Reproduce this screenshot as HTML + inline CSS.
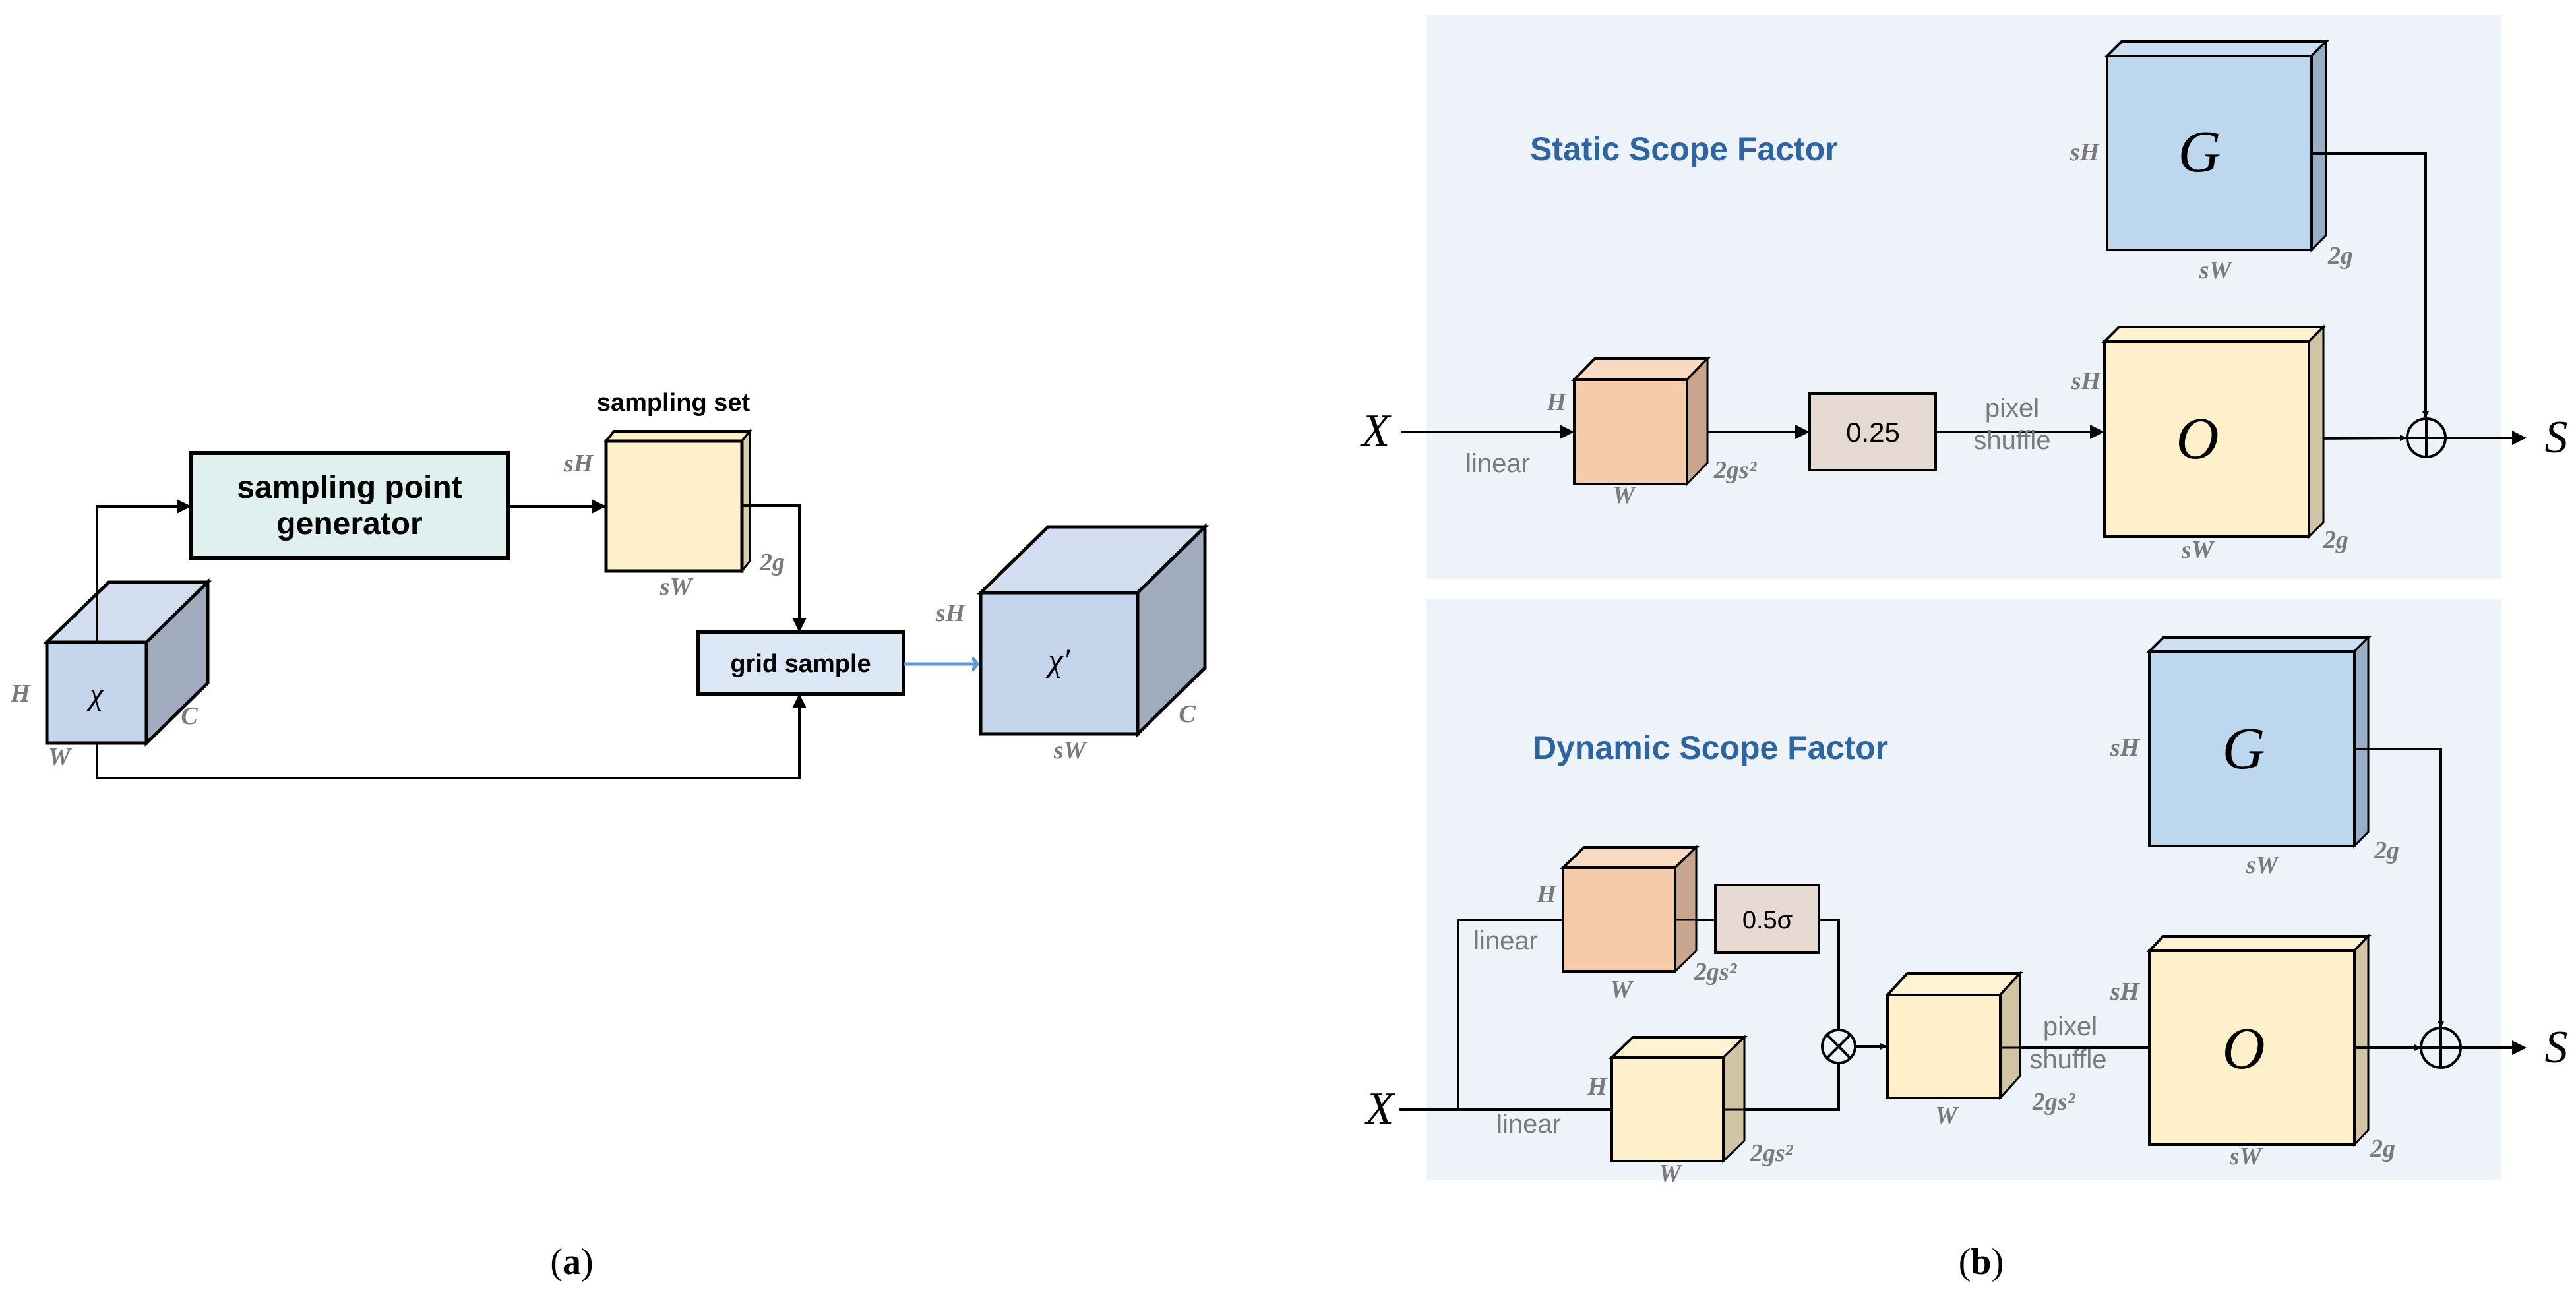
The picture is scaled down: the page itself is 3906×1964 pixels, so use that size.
<!DOCTYPE html>
<html><head><meta charset="utf-8"><style>
html,body{margin:0;padding:0;background:#fff;}
svg{display:block}
.lbl{font-family:"Liberation Serif",serif;font-style:italic;font-weight:bold;fill:#7a7a7a;font-size:38px}
.gt{font-family:"Liberation Sans",sans-serif;fill:#7a7a7a;font-size:40px}
.bt{font-family:"Liberation Sans",sans-serif;font-weight:bold;fill:#000}
.ms{font-family:"Liberation Serif",serif;font-style:italic;fill:#000}
.ttl{font-family:"Liberation Sans",sans-serif;font-weight:bold;fill:#2e64a0;font-size:50px}
</style></head><body>
<svg width="3906" height="1964" viewBox="0 0 3906 1964" xmlns="http://www.w3.org/2000/svg">
<defs>
<marker id="ah" markerWidth="10" markerHeight="10" refX="9" refY="5" orient="auto" markerUnits="userSpaceOnUse" viewBox="0 0 10 10"><path d="M0,0 L10,5 L0,10 z" fill="#000"/></marker>
<marker id="ahb" markerWidth="22" markerHeight="22" refX="20" refY="11" orient="auto" markerUnits="userSpaceOnUse"><path d="M0,0 L22,11 L0,22 z" fill="#000"/></marker>
<marker id="ahl" markerWidth="24" markerHeight="24" refX="6" refY="12" orient="auto" markerUnits="userSpaceOnUse"><path d="M0,2 L8,12 L0,22" fill="none" stroke="#5b9bd5" stroke-width="5"/></marker>
</defs>

<!-- ============ Panel (a) ============ -->
<g stroke="#000" stroke-width="4" fill="none">
<polyline points="147,974 147,768 288,768" marker-end="url(#ahb)"/>
<line x1="771" y1="768" x2="917" y2="768" marker-end="url(#ahb)"/>
<polyline points="1125,767 1212,767 1212,957" marker-end="url(#ahb)"/>
<polyline points="147,1127 147,1180 1212,1180 1212,1054" marker-end="url(#ahb)"/>
</g>
<rect x="290" y="687" width="481" height="159" fill="#dff0ee" stroke="#000" stroke-width="6"/>
<text class="bt" font-size="48" x="530" y="755" text-anchor="middle">sampling point</text>
<text class="bt" font-size="48" x="530" y="810" text-anchor="middle">generator</text>
<text class="bt" font-size="38" x="1021" y="623" text-anchor="middle">sampling set</text>
<!-- sampling set cube -->
<polygon points="919,669 931,654 1137,654 1125,669" fill="#fff0cc" stroke="#000" stroke-width="4"/>
<polygon points="1125,669 1137,654 1137,851 1125,866" fill="#d8ccaa" stroke="#000" stroke-width="3"/>
<rect x="919" y="669" width="206" height="197" fill="#fff0cc" stroke="#000" stroke-width="5"/>
<line x1="1125" y1="767" x2="1137" y2="767" stroke="#000" stroke-width="4"/>
<text class="lbl" x="877" y="715" text-anchor="middle">sH</text>
<text class="lbl" x="1171" y="865" text-anchor="middle">2g</text>
<text class="lbl" x="1025" y="902" text-anchor="middle">sW</text>
<!-- X cube -->
<polygon points="71,974 165,883 315,883 222,974" fill="#d2deef" stroke="#000" stroke-width="5"/>
<polygon points="222,974 315,883 315,1036 222,1127" fill="#a0acbe" stroke="#000" stroke-width="5"/>
<rect x="71" y="974" width="151" height="153" fill="#c5d5ec" stroke="#000" stroke-width="5"/>
<line x1="147" y1="883" x2="147" y2="974" stroke="#000" stroke-width="4"/>
<text class="ms" font-size="48" x="146" y="1068" text-anchor="middle">χ</text>
<text class="lbl" x="31" y="1064" text-anchor="middle">H</text>
<text class="lbl" x="90" y="1160" text-anchor="middle">W</text>
<text class="lbl" x="287" y="1098" text-anchor="middle">C</text>
<!-- grid sample -->
<rect x="1059" y="959" width="311" height="93" fill="#dce8f5" stroke="#000" stroke-width="6"/>
<text class="bt" font-size="38" x="1214" y="1019" text-anchor="middle">grid sample</text>
<line x1="1370" y1="1007" x2="1480" y2="1007" stroke="#5b9bd5" stroke-width="5" marker-end="url(#ahl)"/>
<!-- X' cube -->
<polygon points="1487,899 1589,799 1827,799 1725,899" fill="#d2deef" stroke="#000" stroke-width="5"/>
<polygon points="1725,899 1827,799 1827,1013 1725,1113" fill="#a0acbe" stroke="#000" stroke-width="5"/>
<rect x="1487" y="899" width="238" height="214" fill="#c5d5ec" stroke="#000" stroke-width="5"/>
<text class="ms" font-size="50" x="1606" y="1018" text-anchor="middle">χ′</text>
<text class="lbl" x="1441" y="942" text-anchor="middle">sH</text>
<text class="lbl" x="1800" y="1095" text-anchor="middle">C</text>
<text class="lbl" x="1622" y="1150" text-anchor="middle">sW</text>
<text x="867" y="1932" font-family="Liberation Serif,serif" font-size="56" text-anchor="middle">(<tspan font-weight="bold">a</tspan>)</text>

<!-- ============ Panel (b) static ============ -->
<rect x="2163" y="22" width="1630" height="856" fill="#eef3f9"/>
<text class="ttl" x="2320" y="243">Static Scope Factor</text>
<!-- G cube -->
<polygon points="3195,85 3217,63 3527,63 3505,85" fill="#cde0f3" stroke="#000" stroke-width="4"/>
<polygon points="3505,85 3527,63 3527,357 3505,379" fill="#9aaec6" stroke="#000" stroke-width="3"/>
<rect x="3195" y="85" width="310" height="294" fill="#bdd7ee" stroke="#000" stroke-width="4"/>
<text class="ms" font-size="90" x="3335" y="260" text-anchor="middle">G</text>
<text class="lbl" x="3161" y="243" text-anchor="middle">sH</text>
<text class="lbl" x="3359" y="422" text-anchor="middle">sW</text>
<text class="lbl" x="3549" y="400" text-anchor="middle">2g</text>
<g stroke="#000" stroke-width="4" fill="none">
<polyline points="3505,233 3678,233 3678,633" marker-end="url(#ah)"/>
<line x1="2125" y1="655" x2="2385" y2="655" marker-end="url(#ahb)"/>
<line x1="2558" y1="655" x2="2742" y2="655" marker-end="url(#ahb)"/>
<line x1="2935" y1="655" x2="3189" y2="655" marker-end="url(#ahb)"/>
<line x1="3501" y1="665" x2="3648" y2="664" marker-end="url(#ah)"/>
<line x1="3709" y1="664" x2="3829" y2="664" marker-end="url(#ahb)"/>
<circle cx="3679" cy="664" r="29"/>
<line x1="3650" y1="664" x2="3708" y2="664"/>
<line x1="3679" y1="635" x2="3679" y2="693"/>
</g>
<text class="ms" font-size="70" x="2086" y="676" text-anchor="middle">X</text>
<text class="ms" font-size="70" x="3876" y="686" text-anchor="middle">S</text>
<!-- orange cube -->
<polygon points="2387,576 2418,544 2589,544 2558,576" fill="#f9d9c2" stroke="#000" stroke-width="4"/>
<polygon points="2558,576 2589,544 2589,702 2558,734" fill="#c8a58c" stroke="#000" stroke-width="3"/>
<rect x="2387" y="576" width="171" height="158" fill="#f5cbac" stroke="#000" stroke-width="4"/>
<text class="lbl" x="2360" y="622" text-anchor="middle" font-size="32">H</text>
<text class="lbl" x="2462" y="763" text-anchor="middle" font-size="32">W</text>
<text class="lbl" x="2631" y="725" text-anchor="middle" font-size="34">2gs²</text>
<text class="gt" x="2271" y="716" text-anchor="middle">linear</text>
<rect x="2744" y="597" width="191" height="116" fill="#e6dad3" stroke="#000" stroke-width="4"/>
<text x="2840" y="670" font-family="Liberation Sans,sans-serif" font-size="42" text-anchor="middle">0.25</text>
<text class="gt" x="3051" y="632" text-anchor="middle">pixel</text>
<text class="gt" x="3051" y="681" text-anchor="middle">shuffle</text>
<!-- O cube -->
<polygon points="3191,518 3213,496 3523,496 3501,518" fill="#fff3d4" stroke="#000" stroke-width="4"/>
<polygon points="3501,518 3523,496 3523,792 3501,814" fill="#d0c4a4" stroke="#000" stroke-width="3"/>
<rect x="3191" y="518" width="310" height="296" fill="#fff0cc" stroke="#000" stroke-width="4"/>
<text class="ms" font-size="90" x="3332" y="695" text-anchor="middle">O</text>
<text class="lbl" x="3163" y="590" text-anchor="middle">sH</text>
<text class="lbl" x="3332" y="846" text-anchor="middle">sW</text>
<text class="lbl" x="3542" y="831" text-anchor="middle">2g</text>

<!-- ============ Panel (b) dynamic ============ -->
<rect x="2163" y="909" width="1630" height="881" fill="#eef3f9"/>
<text class="ttl" x="2324" y="1151">Dynamic Scope Factor</text>
<polygon points="3259,988 3280,967 3591,967 3570,988" fill="#cde0f3" stroke="#000" stroke-width="4"/>
<polygon points="3570,988 3591,967 3591,1262 3570,1283" fill="#9aaec6" stroke="#000" stroke-width="3"/>
<rect x="3259" y="988" width="311" height="295" fill="#bdd7ee" stroke="#000" stroke-width="4"/>
<text class="ms" font-size="90" x="3402" y="1165" text-anchor="middle">G</text>
<text class="lbl" x="3222" y="1146" text-anchor="middle">sH</text>
<text class="lbl" x="3430" y="1324" text-anchor="middle">sW</text>
<text class="lbl" x="3619" y="1302" text-anchor="middle">2g</text>
<polygon points="3259,1442 3280,1420 3591,1420 3570,1442" fill="#fff3d4" stroke="#000" stroke-width="4"/>
<polygon points="3570,1442 3591,1420 3591,1714 3570,1736" fill="#d0c4a4" stroke="#000" stroke-width="3"/>
<rect x="3259" y="1442" width="311" height="294" fill="#fff0cc" stroke="#000" stroke-width="4"/>
<text class="ms" font-size="90" x="3402" y="1620" text-anchor="middle">O</text>
<text class="lbl" x="3222" y="1516" text-anchor="middle">sH</text>
<text class="lbl" x="3405" y="1766" text-anchor="middle">sW</text>
<text class="lbl" x="3613" y="1754" text-anchor="middle">2g</text>
<g stroke="#000" stroke-width="4" fill="none">
<polyline points="3570,1136 3701,1136 3701,1558" marker-end="url(#ah)"/>
<line x1="3570" y1="1589" x2="3670" y2="1589" marker-end="url(#ah)"/>
<line x1="3731" y1="1589" x2="3829" y2="1589" marker-end="url(#ahb)"/>
<circle cx="3701" cy="1589" r="30"/>
<line x1="3671" y1="1589" x2="3731" y2="1589"/>
<line x1="3701" y1="1559" x2="3701" y2="1619"/>
<line x1="2122" y1="1683" x2="2444" y2="1683"/>
<polyline points="2211,1683 2211,1395 2370,1395"/>
<line x1="2540" y1="1395" x2="2601" y2="1395"/>
<polyline points="2758,1395 2788,1395 2788,1562"/>
<polyline points="2613,1683 2788,1683 2788,1612"/>
<line x1="2813" y1="1587" x2="2860" y2="1587" marker-end="url(#ah)"/>
<line x1="3033" y1="1589" x2="3259" y2="1589"/>
<circle cx="2788" cy="1587" r="25"/>
<line x1="2770" y1="1569" x2="2806" y2="1605"/>
<line x1="2806" y1="1569" x2="2770" y2="1605"/>
</g>
<text class="ms" font-size="70" x="2092" y="1704" text-anchor="middle">X</text>
<text class="ms" font-size="70" x="3876" y="1611" text-anchor="middle">S</text>
<!-- orange cube dyn -->
<polygon points="2370,1316 2402,1285 2572,1285 2540,1316" fill="#f9d9c2" stroke="#000" stroke-width="4"/>
<polygon points="2540,1316 2572,1285 2572,1442 2540,1473" fill="#c8a58c" stroke="#000" stroke-width="3"/>
<rect x="2370" y="1316" width="170" height="157" fill="#f5cbac" stroke="#000" stroke-width="4"/>
<line x1="2540" y1="1395" x2="2572" y2="1395" stroke="#000" stroke-width="3"/>
<text class="lbl" x="2345" y="1368" text-anchor="middle" font-size="32">H</text>
<text class="lbl" x="2458" y="1513" text-anchor="middle" font-size="32">W</text>
<text class="lbl" x="2601" y="1486" text-anchor="middle" font-size="34">2gs²</text>
<text class="gt" x="2283" y="1440" text-anchor="middle" font-size="36">linear</text>
<rect x="2601" y="1342" width="157" height="103" fill="#e6dad3" stroke="#000" stroke-width="4"/>
<text x="2680" y="1408" font-family="Liberation Sans,sans-serif" font-size="38" text-anchor="middle">0.5σ</text>
<!-- lower yellow cube -->
<polygon points="2444,1604 2476,1573 2645,1573 2613,1604" fill="#fff3d4" stroke="#000" stroke-width="4"/>
<polygon points="2613,1604 2645,1573 2645,1730 2613,1761" fill="#d0c4a4" stroke="#000" stroke-width="3"/>
<rect x="2444" y="1604" width="169" height="157" fill="#fff0cc" stroke="#000" stroke-width="4"/>
<line x1="2613" y1="1683" x2="2645" y2="1683" stroke="#000" stroke-width="3"/>
<text class="lbl" x="2422" y="1660" text-anchor="middle" font-size="32">H</text>
<text class="lbl" x="2532" y="1792" text-anchor="middle" font-size="32">W</text>
<text class="lbl" x="2686" y="1761" text-anchor="middle" font-size="34">2gs²</text>
<text class="gt" x="2318" y="1718" text-anchor="middle" font-size="36">linear</text>
<!-- middle cube -->
<polygon points="2862,1509 2892,1476 3063,1476 3033,1509" fill="#fff3d4" stroke="#000" stroke-width="4"/>
<polygon points="3033,1509 3063,1476 3063,1632 3033,1665" fill="#d0c4a4" stroke="#000" stroke-width="3"/>
<rect x="2862" y="1509" width="171" height="156" fill="#fff0cc" stroke="#000" stroke-width="4"/>
<line x1="3033" y1="1589" x2="3063" y2="1589" stroke="#000" stroke-width="3"/>
<text class="lbl" x="2951" y="1704" text-anchor="middle" font-size="32">W</text>
<text class="lbl" x="3114" y="1683" text-anchor="middle" font-size="34">2gs²</text>
<text class="gt" x="3139" y="1570" text-anchor="middle" font-size="36">pixel</text>
<text class="gt" x="3136" y="1620" text-anchor="middle" font-size="36">shuffle</text>
<text x="3004" y="1932" font-family="Liberation Serif,serif" font-size="56" text-anchor="middle">(<tspan font-weight="bold">b</tspan>)</text>
</svg>
</body></html>
